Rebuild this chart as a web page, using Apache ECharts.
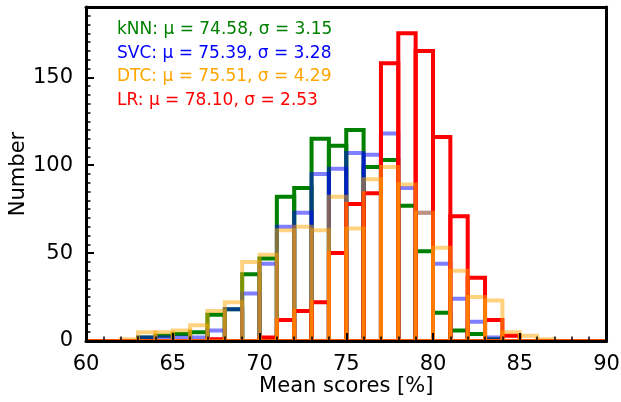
<!DOCTYPE html>
<html>
<head>
<meta charset="utf-8">
<script src="https://cdn.jsdelivr.net/npm/echarts@6/dist/echarts.min.js"></script>
<style>
  html, body { margin: 0; padding: 0; background: #ffffff; }
  #chart { width: 621px; height: 402px; }
</style>
</head>
<body>
<div id="chart"></div>
<script>
// Left edges of the 1 %-wide score bins (60 … 89)
const binStarts = [60, 61, 62, 63, 64, 65, 66, 67, 68, 69,
                   70, 71, 72, 73, 74, 75, 76, 77, 78, 79,
                   80, 81, 82, 83, 84, 85, 86, 87, 88, 89];
const binWidth = 1;

// Counts per bin for each classifier
const knnCounts = [0, 0, 0, 2, 3, 4, 5, 15, 18, 38,
                   47, 82, 87, 115, 111, 120, 99, 103, 77, 51,
                   16, 6, 4, 1, 0, 0, 0, 0, 0, 0];
const svcCounts = [0, 0, 0, 2, 2, 2, 2, 6, 18, 27,
                   44, 65, 73, 95, 98, 107, 106, 118, 87, 73,
                   44, 24, 11, 2, 0, 0, 0, 0, 0, 0];
const dtcCounts = [0, 0, 1, 5, 5, 6, 9, 17, 22, 45,
                   49, 63, 65, 63, 82, 64, 92, 99, 89, 73,
                   53, 40, 25, 23, 5, 3, 1, 0, 0, 0];
const lrCounts  = [0, 0, 0, 0, 0, 0, 0, 1, 0, 0,
                   2, 12, 17, 22, 50, 78, 84, 158, 175, 165,
                   116, 71, 36, 12, 3, 0, 0, 0, 0, 0];

// Summary lines shown in the upper-left corner
const summaryLines = [
  'kNN: μ = 74.58, σ = 3.15',
  'SVC: μ = 75.39, σ = 3.28',
  'DTC: μ = 75.51, σ = 4.29',
  'LR: μ = 78.10, σ = 2.53'
];

const xTicks = { min: 60, max: 90, step: 5 };
const yTicks = { min: 0, max: 190, step: 50, minorStep: 5 };

const FONT = 'DejaVu Sans';

function toData(counts) {
  return binStarts.map((x, i) => [x, counts[i]]);
}

// Outline of one histogram bar, placed through the axis scales
function barOutline(color, opacity) {
  return function (params, api) {
    const x0 = api.value(0);
    const n = api.value(1);
    const p0 = api.coord([x0, 0]);
    const p1 = api.coord([x0 + binWidth, n]);
    return {
      type: 'rect',
      shape: { x: p0[0], y: p1[1], width: p1[0] - p0[0], height: p0[1] - p1[1] },
      style: { fill: 'none', stroke: color, lineWidth: 4, opacity: opacity }
    };
  };
}

function histSeries(name, counts, color, opacity) {
  return {
    name: name,
    type: 'custom',
    z: 1,
    renderItem: barOutline(color, opacity),
    encode: { x: 0, y: 1 },
    data: toData(counts),
    silent: true,
    animation: false
  };
}

const textColors = ['#008000', '#0000ff', '#ffa500', '#ff0000'];
const frameLine = { show: true, onZero: false, lineStyle: { color: '#000000', width: 3 } };
const tickStyle = { color: '#000000', width: 2 };
const minorStyle = { color: '#000000', width: 1.5 };

const chart = echarts.init(document.getElementById('chart'), null, { renderer: 'canvas' });

chart.setOption({
  backgroundColor: '#ffffff',
  animation: false,
  grid: {
    left: 86, right: 14.5, top: 7, bottom: 61,
    show: false,
    outerBoundsMode: 'none',
    containLabel: false
  },
  xAxis: [
    {
      type: 'value',
      position: 'bottom',
      min: xTicks.min, max: xTicks.max, interval: xTicks.step,
      z: 5,
      axisLine: frameLine,
      axisTick: { show: true, inside: true, length: 8, lineStyle: tickStyle },
      minorTick: { show: true, splitNumber: 5, length: 4.5, lineStyle: minorStyle },
      splitLine: { show: false },
      minorSplitLine: { show: false },
      axisLabel: { show: true, color: '#000000', fontSize: 21, fontFamily: FONT, margin: 13 },
      name: 'Mean scores [%]',
      nameLocation: 'middle',
      nameMoveOverlap: false,
      nameGap: 35,
      nameTextStyle: { color: '#000000', fontSize: 21, fontFamily: FONT }
    },
    {
      type: 'value',
      position: 'top',
      min: xTicks.min, max: xTicks.max, interval: xTicks.step,
      z: 5,
      axisLine: frameLine,
      axisTick: { show: false },
      splitLine: { show: false },
      axisLabel: { show: false }
    }
  ],
  yAxis: [
    {
      type: 'value',
      position: 'left',
      min: yTicks.min, max: yTicks.max, interval: yTicks.step,
      z: 5,
      axisLine: frameLine,
      axisTick: { show: true, inside: true, length: 8, lineStyle: tickStyle },
      splitLine: { show: false },
      axisLabel: { show: true, color: '#000000', fontSize: 21, fontFamily: FONT, margin: 13, showMaxLabel: false },
      name: 'Number',
      nameLocation: 'middle',
      nameMoveOverlap: false,
      nameGap: 57,
      nameTextStyle: { color: '#000000', fontSize: 21, fontFamily: FONT }
    },
    {
      type: 'value',
      position: 'left',
      min: yTicks.min, max: yTicks.max, interval: yTicks.minorStep,
      z: 5,
      axisLine: { show: false },
      axisTick: { show: true, inside: true, length: 4.5, lineStyle: minorStyle },
      splitLine: { show: false },
      axisLabel: { show: false }
    },
    {
      type: 'value',
      position: 'right',
      min: yTicks.min, max: yTicks.max, interval: yTicks.step,
      z: 5,
      axisLine: frameLine,
      axisTick: { show: false },
      splitLine: { show: false },
      axisLabel: { show: false }
    }
  ],
  graphic: summaryLines.map((t, i) => ({
    type: 'text',
    x: 117,
    y: 29.5 + 23.7 * i,
    z: 10,
    style: {
      text: t,
      fill: textColors[i],
      fontSize: 17,
      fontFamily: FONT,
      verticalAlign: 'middle',
      align: 'left'
    }
  })),
  series: [
    histSeries('kNN', knnCounts, '#008000', 1),
    histSeries('SVC', svcCounts, '#0000ff', 0.5),
    histSeries('LR', lrCounts, '#ff0000', 1),
    histSeries('DTC', dtcCounts, '#ffa500', 0.5)
  ]
});
</script>
</body>
</html>
